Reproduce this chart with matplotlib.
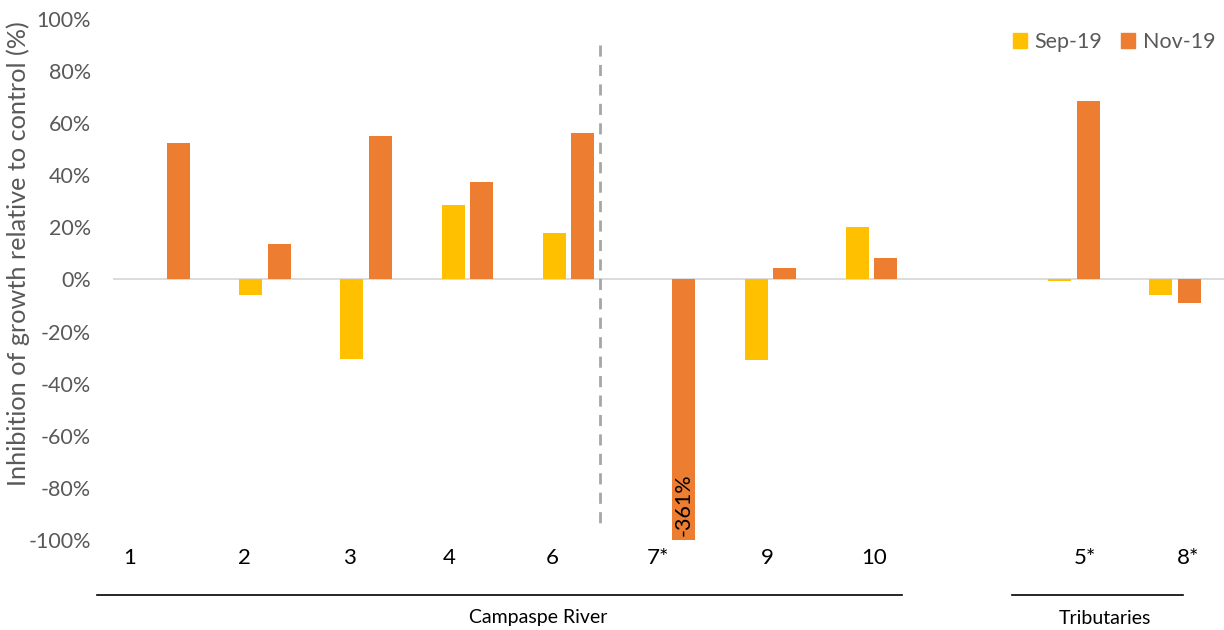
import matplotlib.pyplot as plt
from matplotlib.lines import Line2D
from matplotlib.patches import Patch
import numpy as np

plt.rcParams['font.family'] = ['Lato', 'DejaVu Sans']

sites = ["1", "2", "3", "4", "6", "7*", "9", "10", "", "5*", "8*"]
sep19 = [np.nan, -0.058, -0.304, 0.285, 0.177, np.nan, -0.308, 0.200, np.nan, -0.005, -0.058]
nov19 = [0.523, 0.135, 0.550, 0.373, 0.562, -3.61, 0.046, 0.081, np.nan, 0.685, -0.092]
label_x = [-0.34, 0.80, 1.83, 2.82, 3.84, 4.89, 5.97, 7.02, None, 9.11, 10.13]

c_sep = "#FFC000"
c_nov = "#ED7D31"
grey = "#595959"

fig = plt.figure(figsize=(12.24, 6.3), dpi=100)
ax = fig.add_axes([0.0927, 0.1429, 0.9073, 0.8269])

x = np.arange(len(sites))
w = 0.227
off = 0.141
ax.bar(x - off, sep19, w, color=c_sep, label="Sep-19")
ax.bar(x + off, nov19, w, color=c_nov, label="Nov-19")

ax.set_xlim(-0.5, 10.485)
ax.set_ylim(-1.0, 1.0)
ticks = np.arange(-1.0, 1.01, 0.2)
ax.set_yticks(ticks)
ax.set_yticklabels(["%d%%" % round(v * 100) for v in ticks], fontsize=15.5, color=grey)
ax.tick_params(axis="y", length=0, pad=16)
ax.set_xticks([])
for s in ax.spines.values():
    s.set_visible(False)
ax.axhline(0, color="#D9D9D9", lw=1.3, zorder=0)

ax.set_ylabel("Inhibition of growth relative to control (%)", fontsize=18.2, color=grey)
ax.yaxis.set_label_coords(-0.0755, 0.549)

# value label for the off-scale bar
i7 = sites.index("7*")
ax.text(x[i7] + off, -0.985, "%d%%" % round(nov19[i7] * 100), rotation=90,
        ha="center", va="bottom", fontsize=15.5, color="black")

# site labels under the plot
for lx, name in zip(label_x, sites):
    if lx is None:
        continue
    ax.text(lx, -1.07, name, ha="center", va="center", fontsize=16,
            color="black", clip_on=False)

# divider between upstream and downstream sites
ax.plot([4.31, 4.31], [0.90, -0.935], color="#A6A6A6", lw=2, ls=(0, (4, 3)))

# group brackets
H, W = 630.0, 1224.0
fig.add_artist(Line2D([97 / W, 902 / W], [1 - 595 / H] * 2, color="black", lw=1.2))
fig.add_artist(Line2D([1012 / W, 1183 / W], [1 - 595 / H] * 2, color="black", lw=1.2))
fig.text(538 / W, 1 - 618 / H, "Campaspe River", ha="center", va="center", fontsize=14)
fig.text(1105 / W, 1 - 618 / H, "Tributaries", ha="center", va="center", fontsize=14)

handles = [Patch(color=c_sep, label="Sep-19"), Patch(color=c_nov, label="Nov-19")]
leg = fig.legend(handles=handles, loc="center right", bbox_to_anchor=(1235 / W, 1 - 42 / H),
                 ncol=2, frameon=False, fontsize=15.5, handlelength=0.65, handleheight=0.65,
                 handletextpad=0.35, columnspacing=0.9)
for t in leg.get_texts():
    t.set_color(grey)

fig.savefig("out.png", dpi=100)
